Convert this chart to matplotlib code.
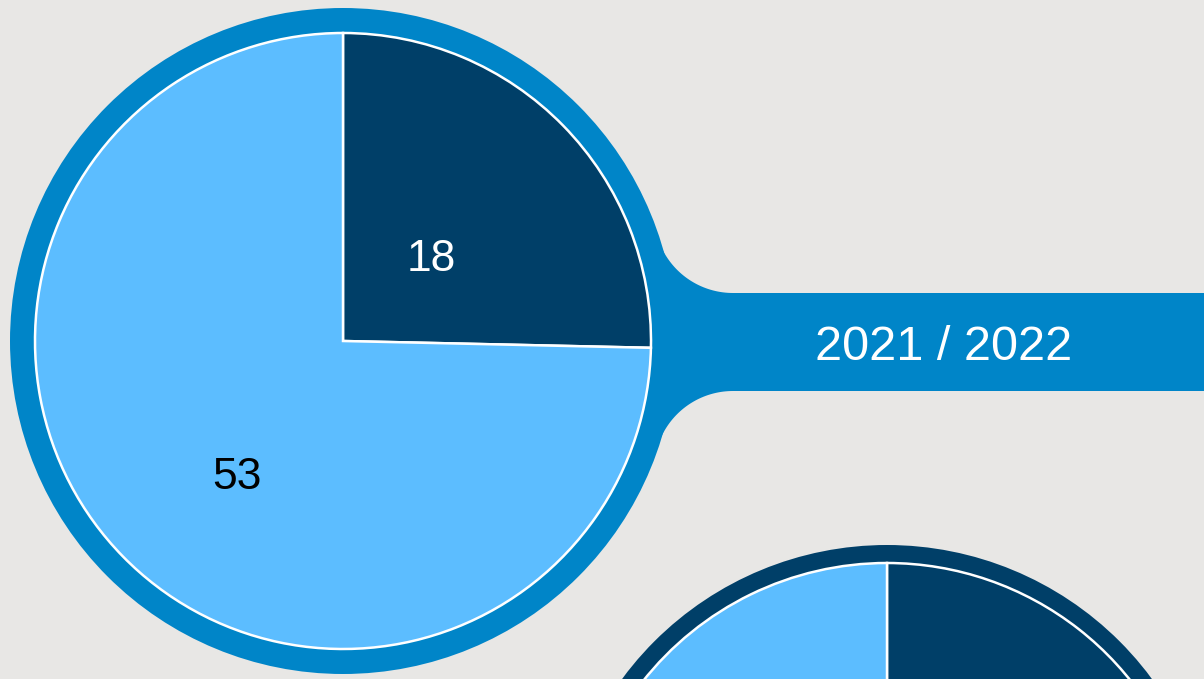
import numpy as np
import matplotlib.pyplot as plt
from matplotlib.patches import Circle, Polygon

# data
season = '2021 / 2022'
values_1 = [18, 53]
values_2 = [30, 41]   # second pie is mostly cut off, values not readable
label_dist = [0.40, 0.55]
label_shift = [0, 7]  # degrees

bg = '#e8e7e5'
dark = '#003f68'
light = '#5cbdff'
ring_blue = '#0085c8'

plt.rcParams['font.family'] = ['Liberation Sans', 'DejaVu Sans']

W, H = 1204, 679
fig = plt.figure(figsize=(W / 100, H / 100), dpi=100, facecolor=bg)
ax = fig.add_axes([0, 0, 1, 1])
ax.set_facecolor(bg)

# pixel-like coordinates, y going up
c1 = (343, H - 341)
c2 = (887, H - 874)
R_out1, R_pie1 = 333, 308
R_out2, R_pie2 = 329, 311

# connector bar with rounded joins to the ring
bar_top, bar_bot = H - 293, H - 391
fx = 733
rf = 79


def fillet(y_line, sign):
    # fillet circle tangent to bar edge and outer ring
    fc = (fx, y_line + sign * rf)
    d = np.hypot(fc[0] - c1[0], fc[1] - c1[1])
    tp = (c1[0] + (fc[0] - c1[0]) * R_out1 / d, c1[1] + (fc[1] - c1[1]) * R_out1 / d)
    a0 = np.arctan2(tp[1] - fc[1], tp[0] - fc[0])
    a1 = -sign * np.pi / 2
    a = np.linspace(a0, a1, 40)
    return np.column_stack([fc[0] + rf * np.cos(a), fc[1] + rf * np.sin(a)])


up = fillet(bar_top, +1)
lo = fillet(bar_bot, -1)
pts = np.vstack([[c1], up, [[W + 5, bar_top], [W + 5, bar_bot]], lo[::-1], [c1]])
ax.add_patch(Polygon(pts, closed=True, facecolor=ring_blue, edgecolor='none'))

ax.add_patch(Circle(c1, R_out1, facecolor=ring_blue, edgecolor='none'))
ax.add_patch(Circle(c2, R_out2, facecolor=dark, edgecolor='none'))

wedges1, _ = ax.pie(values_1, colors=[dark, light], startangle=90, counterclock=False,
                    center=c1, radius=R_pie1,
                    wedgeprops=dict(edgecolor='white', linewidth=1.8))
wedges2, _ = ax.pie(values_2, colors=[dark, light], startangle=90, counterclock=False,
                    center=c2, radius=R_pie2,
                    wedgeprops=dict(edgecolor='white', linewidth=1.8))

txt_colors = ['white', 'black']
for w, v, d, s, tc in zip(wedges1, values_1, label_dist, label_shift, txt_colors):
    ang = np.deg2rad((w.theta1 + w.theta2) / 2 + s)
    ax.text(c1[0] + d * R_pie1 * np.cos(ang), c1[1] + d * R_pie1 * np.sin(ang), str(v),
            ha='center', va='center_baseline', fontsize=32, color=tc)

ax.text(944, H - 342, season, ha='center', va='center_baseline', fontsize=35, color='white')

ax.set_xlim(0, W)
ax.set_ylim(0, H)
ax.set_aspect('equal')
ax.axis('off')

plt.savefig('out.png', dpi=100, facecolor=bg)
